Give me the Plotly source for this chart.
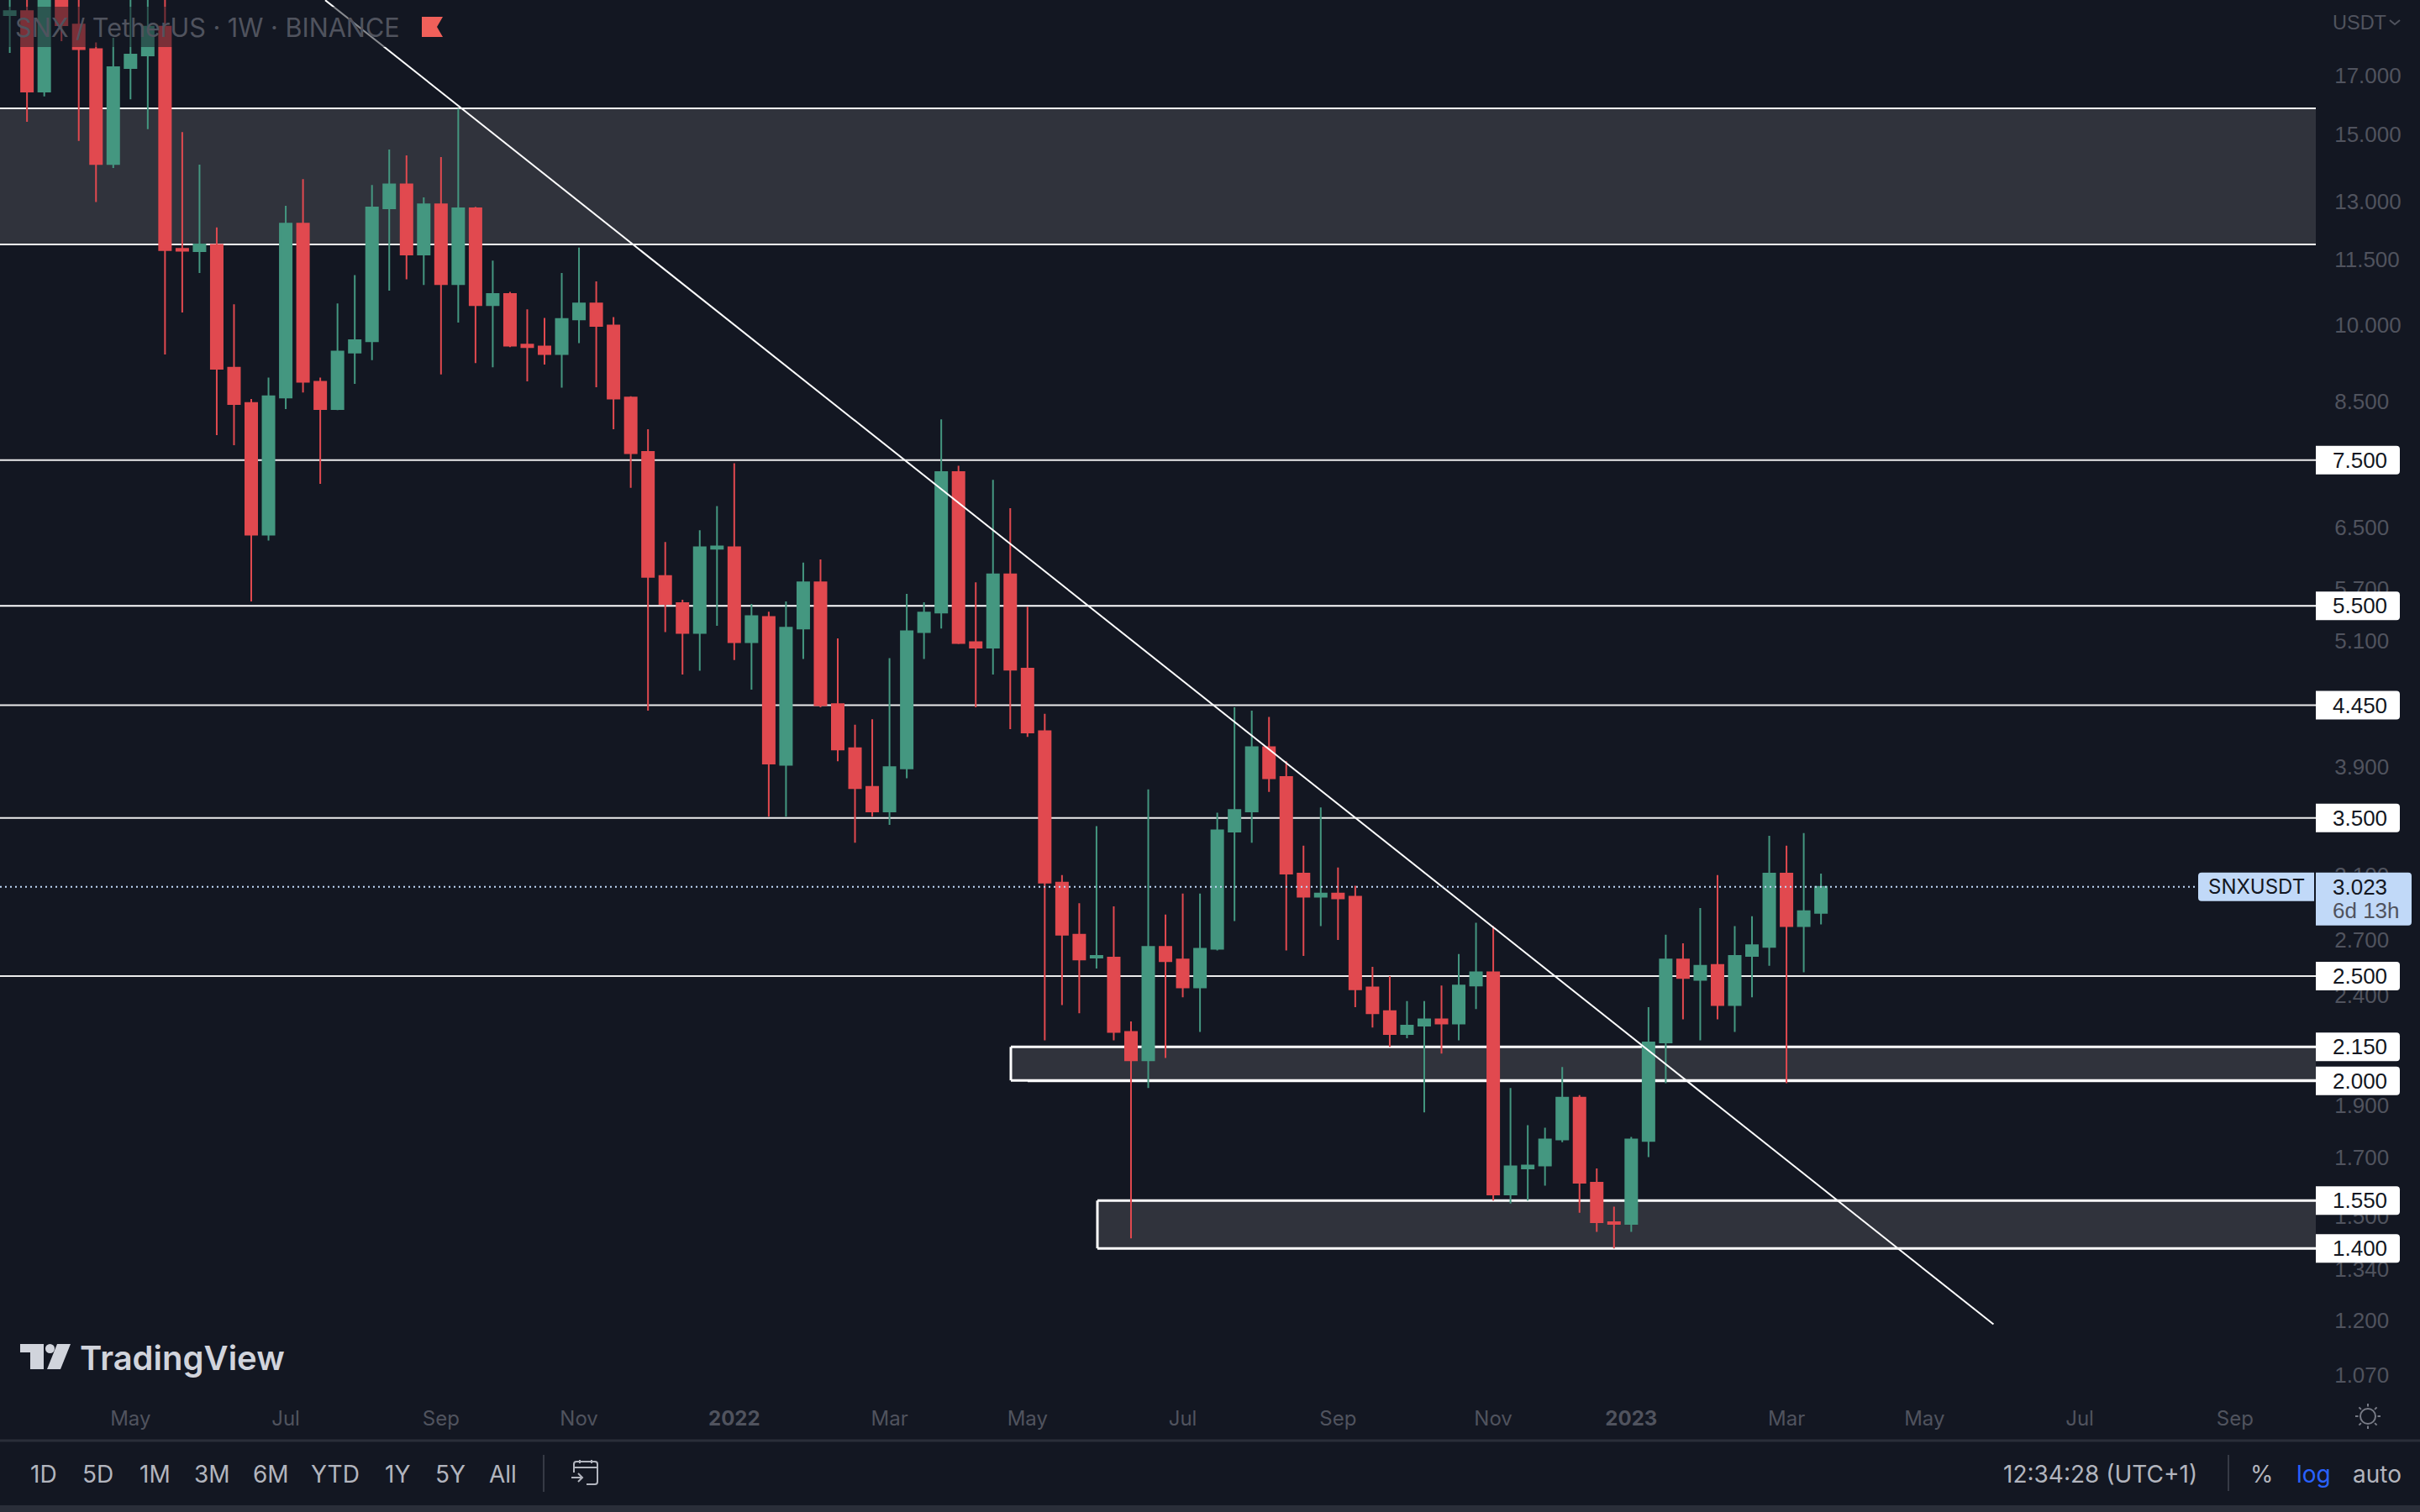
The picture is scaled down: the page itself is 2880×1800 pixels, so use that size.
import math
import pandas as pd
import plotly.graph_objects as go

# weekly SNX/USDT candles, oldest first
first_week = "2021-03-15"
opens = [19.34, 19.51, 16.44, 21.5, 18.96, 17.99, 14.09, 17.28, 17.75, 18.87,
         11.76, 11.70, 11.86, 9.13, 8.47, 6.40, 8.57, 12.41, 8.86, 8.36,
         9.43, 9.66, 12.82, 13.49, 11.62, 12.93, 10.91, 12.82, 10.43, 10.68,
         9.59, 9.55, 9.40, 10.12, 10.47, 9.99, 8.57, 7.63, 5.86, 5.53,
         5.19, 6.21, 6.23, 5.09, 5.37, 3.92, 5.24, 5.78, 4.46, 4.06,
         3.74, 3.55, 3.89, 5.20, 5.42, 7.31, 5.09, 5.03, 5.88, 4.81,
         4.21, 3.05, 2.73, 2.60, 2.60, 2.22, 2.09, 2.66, 2.59, 2.44,
         2.65, 3.40, 3.55, 4.07, 3.82, 3.11, 2.96, 2.98, 2.96, 2.44,
         2.32, 2.21, 2.25, 2.28, 2.26, 2.45, 2.52, 1.57, 1.66, 1.67,
         1.765, 1.93, 1.61, 1.48, 1.475, 1.76, 2.17, 2.59, 2.48, 2.56,
         2.35, 2.61, 2.66, 3.11, 2.78, 2.86]
highs = [20.6, 20.6, 22.0, 22.0, 20.6, 18.25, 18.43, 20.6, 20.6, 20.6,
         15.08, 14.07, 12.31, 10.45, 8.54, 8.94, 12.89, 13.64, 8.94, 10.47,
         11.12, 13.47, 14.53, 14.35, 13.12, 14.30, 15.85, 12.86, 11.47, 10.73,
         10.34, 10.15, 11.17, 11.79, 10.97, 10.17, 8.59, 8.01, 6.30, 5.57,
         6.46, 6.80, 7.45, 5.52, 5.43, 5.55, 6.03, 6.07, 5.13, 4.27,
         4.32, 4.92, 5.64, 5.54, 8.18, 7.41, 5.78, 7.19, 6.77, 5.49,
         4.37, 3.10, 2.92, 3.44, 2.90, 2.27, 3.72, 2.85, 2.98, 2.98,
         3.54, 4.43, 4.40, 4.34, 3.95, 3.30, 3.58, 3.15, 3.03, 2.55,
         2.50, 2.37, 2.37, 2.45, 2.62, 2.80, 2.78, 1.97, 1.82, 1.81,
         2.06, 1.94, 1.66, 1.53, 1.775, 2.34, 2.73, 2.68, 2.89, 3.10,
         2.78, 2.84, 3.37, 3.30, 3.39, 3.11]
lows = [17.85, 15.41, 16.27, 18.3, 14.80, 12.99, 13.97, 16.17, 15.17, 9.39,
        10.27, 11.17, 7.91, 7.74, 5.55, 6.32, 8.36, 8.66, 7.13, 8.34,
        8.82, 9.28, 10.76, 11.02, 10.89, 9.00, 10.05, 9.22, 9.14, 9.54,
        8.87, 9.19, 8.75, 9.62, 8.76, 8.01, 7.07, 4.40, 5.20, 4.75,
        4.79, 5.27, 4.90, 4.60, 3.51, 3.51, 4.91, 4.43, 3.95, 3.32,
        3.51, 3.45, 3.81, 4.91, 5.24, 5.07, 4.43, 4.75, 4.23, 4.16,
        2.18, 2.35, 2.31, 2.54, 2.18, 1.43, 1.97, 2.10, 2.39, 2.22,
        2.64, 2.81, 3.32, 3.70, 2.64, 2.61, 2.78, 2.70, 2.34, 2.24,
        2.15, 2.19, 1.87, 2.12, 2.18, 2.33, 1.55, 1.54, 1.55, 1.60,
        1.755, 1.51, 1.45, 1.40, 1.45, 1.70, 1.99, 2.28, 2.18, 2.28,
        2.22, 2.39, 2.555, 1.99, 2.52, 2.79]
closes = [19.51, 16.44, 21.0, 18.93, 17.99, 14.09, 17.31, 17.78, 18.87, 11.73,
          11.71, 11.87, 9.11, 8.45, 6.40, 8.59, 12.41, 8.86, 8.36, 9.45,
          9.68, 12.84, 13.49, 11.62, 12.93, 10.91, 12.82, 10.43, 10.68, 9.57,
          9.54, 9.40, 10.13, 10.47, 9.98, 8.55, 7.61, 5.85, 5.52, 5.19,
          6.23, 6.24, 5.09, 5.38, 3.93, 5.25, 5.78, 4.45, 4.05, 3.73,
          3.55, 3.90, 5.21, 5.42, 7.31, 5.08, 5.03, 5.88, 4.80, 4.20,
          3.05, 2.73, 2.59, 2.61, 2.22, 2.09, 2.66, 2.58, 2.44, 2.65,
          3.41, 3.56, 4.07, 3.81, 3.11, 2.96, 2.98, 2.95, 2.43, 2.31,
          2.21, 2.25, 2.28, 2.26, 2.45, 2.52, 1.57, 1.667, 1.67, 1.765,
          1.93, 1.61, 1.48, 1.475, 1.765, 2.17, 2.59, 2.49, 2.555, 2.35,
          2.61, 2.67, 3.11, 2.78, 2.87, 3.023]

# axis labels
date_ticks = ["2021-05-03", "2021-07-05", "2021-09-06", "2021-11-01", "2022-01-03",
              "2022-03-07", "2022-05-02", "2022-07-04", "2022-09-05", "2022-11-07",
              "2023-01-02", "2023-03-06", "2023-05-01", "2023-07-03", "2023-09-04"]
date_labels = ["May", "Jul", "Sep", "Nov", "<b>2022</b>", "Mar", "May", "Jul", "Sep", "Nov",
               "<b>2023</b>", "Mar", "May", "Jul", "Sep"]
price_ticks = [17, 15, 13, 11.5, 10, 8.5, 6.5, 5.7, 5.1, 3.9, 3.1, 2.7, 2.4, 1.9, 1.7, 1.5, 1.34, 1.2, 1.07]

# drawn levels
level_lines = [7.5, 5.5, 4.45, 3.5, 2.5]
level_tags = [7.5, 5.5, 4.45, 3.5, 2.5, 2.15, 2.0, 1.55, 1.4]
last_price = 3.023
trend_dates = ["2021-07-21", "2023-05-29"]
trend_prices = [19.97, 1.191]

ranges = ["1D", "5D", "1M", "3M", "6M", "YTD", "1Y", "5Y", "All"]
range_x = [52, 116, 184, 253, 322, 399, 473, 536, 598]

BG = "#131722"
ZONE = "#30333c"
RED = "#e1494f"
GREEN = "#449780"
MUTED = "#50535e"
TEXT = "#b2b5be"
TAG_BLUE = "#c1d9f8"
FONT = "Inter"
NUM_FONT = "Liberation Sans"  # tabular digits, closer to the price scale

W, H = 2880, 1800
PLOT_R, PLOT_B = 2756, 1672
X_END = "2023-10-06 19:00"


def px(x):
    return x / W


def py(y):
    return 1 - y / H


weeks = pd.date_range(first_week, periods=len(opens), freq="7D")

fig = go.Figure()

# trendline goes first so the candles sit on top of it
fig.add_trace(go.Scatter(x=trend_dates, y=trend_prices, mode="lines", hoverinfo="skip",
                         line=dict(color="#ffffff", width=2), showlegend=False))
fig.add_trace(go.Candlestick(x=weeks, open=opens, high=highs, low=lows, close=closes,
                             whiskerwidth=0, showlegend=False,
                             increasing=dict(line=dict(color=GREEN, width=2), fillcolor=GREEN),
                             decreasing=dict(line=dict(color=RED, width=2), fillcolor=RED)))

shapes = []


def hline(price, x0=0, x1=PLOT_R, width=2, color="#ffffff"):
    shapes.append(dict(type="line", xref="paper", yref="y", x0=px(x0), x1=px(x1), y0=price, y1=price,
                       layer="below", line=dict(color=color, width=width)))


def zone(x0, low, high):
    shapes.append(dict(type="rect", xref="paper", yref="y", x0=px(x0), x1=px(PLOT_R), y0=low, y1=high,
                       layer="below", fillcolor=ZONE, line=dict(width=0)))


def zone_edge(x0, low, high):
    # open on the right, the zones run into the price scale
    hline(high, x0=x0, width=3)
    hline(low, x0=x0, width=3)
    shapes.append(dict(type="line", xref="paper", yref="y", x0=px(x0), x1=px(x0), y0=low, y1=high,
                       layer="below", line=dict(color="#ffffff", width=3)))


def icon(path, x0, y0, fill=None, color=None, width=2):
    shapes.append(dict(type="path", path=path, xref="paper", yref="paper",
                       xsizemode="pixel", ysizemode="pixel", xanchor=px(x0), yanchor=py(y0),
                       fillcolor=fill if fill else "rgba(0,0,0,0)",
                       line=dict(color=color if color else "rgba(0,0,0,0)", width=width if color else 0)))


def dot(cx, cy, r, fill=None, color=None, width=2):
    shapes.append(dict(type="circle", xref="paper", yref="paper",
                       xsizemode="pixel", ysizemode="pixel", xanchor=px(cx), yanchor=py(cy),
                       x0=-r, x1=r, y0=-r, y1=r,
                       fillcolor=fill if fill else "rgba(0,0,0,0)",
                       line=dict(color=color if color else "rgba(0,0,0,0)", width=width if color else 0)))


# zones
zone(0, 11.87, 15.86)
hline(15.86, width=2)
hline(11.87, width=2)

zone(1203, 2.002, 2.15)
zone_edge(1203, 2.002, 2.15)
hline(2.0, x0=1223, width=3)

zone(1306, 1.4, 1.55)
zone_edge(1306, 1.4, 1.55)

for lv in level_lines:
    hline(lv, color="#ececec" if lv != 5.5 else "#ffffff")

# last price dotted line, drawn over the candles
shapes.append(dict(type="line", xref="paper", yref="y", x0=0, x1=px(2616), y0=last_price, y1=last_price,
                   layer="above", line=dict(color=TAG_BLUE, width=2, dash="2px,4px")))

# legend backdrop dims whatever runs behind it
shapes.append(dict(type="rect", xref="paper", yref="paper", x0=0, x1=px(530), y0=py(56), y1=py(8),
                   layer="above", fillcolor="rgba(19,23,34,0.5)", line=dict(width=0)))

# price tags
for lv in level_tags:
    shapes.append(dict(type="path", xref="paper", yref="y", xsizemode="pixel", ysizemode="pixel",
                       xanchor=px(PLOT_R), yanchor=lv,
                       path="M0,-17 H96 Q100,-17 100,-13 V13 Q100,17 96,17 H0 Z",
                       fillcolor="#ffffff", line=dict(width=0)))
shapes.append(dict(type="path", xref="paper", yref="y", xsizemode="pixel", ysizemode="pixel",
                   xanchor=px(PLOT_R), yanchor=last_price,
                   path="M0,-46 H110 Q114,-46 114,-42 V13 Q114,17 110,17 H0 Z",
                   fillcolor=TAG_BLUE, line=dict(width=0)))
shapes.append(dict(type="path", xref="paper", yref="y", xsizemode="pixel", ysizemode="pixel",
                   xanchor=px(2616), yanchor=last_price,
                   path="M138,-17 H4 Q0,-17 0,-13 V13 Q0,17 4,17 H138 Z",
                   fillcolor=TAG_BLUE, line=dict(width=0)))

# frame of the page
shapes.append(dict(type="line", xref="paper", yref="paper", x0=0, x1=1, y0=py(1715), y1=py(1715),
                   line=dict(color="#2a2e39", width=3)))
shapes.append(dict(type="rect", xref="paper", yref="paper", x0=0, x1=1, y0=0, y1=py(1792),
                   fillcolor="#2a2e39", line=dict(width=0)))
shapes.append(dict(type="line", xref="paper", yref="paper", x0=px(647), x1=px(647), y0=py(1732), y1=py(1776),
                   line=dict(color="#363a45", width=2)))
shapes.append(dict(type="line", xref="paper", yref="paper", x0=px(2652), x1=px(2652), y0=py(1732), y1=py(1775),
                   line=dict(color="#363a45", width=2)))

# small icons
icon("M0,0 H25 L18,-12 L25,-24 H0 Z", 502, 20, fill="#f0605a")
icon("M-6,2 L0,-3 L6,2", 2850, 26, color=MUTED, width=2)
icon("M0,0 H28 V-30 H12 V-10 H0 Z", 24, 1600, fill="#d1d4dc")
dot(59.5, 1605.5, 5.5, fill="#d1d4dc")
icon("M44,0 H60 L48,-30 H32 Z", 24, 1600, fill="#d1d4dc")
icon("M2,-15 V-5 Q2,-2 5,-2 H27 Q30,-2 30,-5 V-26 Q30,-29 27,-29 H17 M2,-9 H30 M9,0 V-4 M23,0 V-4 "
     "M-1,-21 H12 M7,-16 L12,-21 L7,-26", 681, 1738, color=TEXT, width=2)

dot(2818, 1686, 9, color="#787b86")
rays = ""
for k in range(8):
    a = k * math.pi / 4
    rays += f" M{11.5 * math.cos(a):.1f},{11.5 * math.sin(a):.1f} L{15 * math.cos(a):.1f},{15 * math.sin(a):.1f}"
icon(rays.strip(), 2818, 1686, color="#787b86", width=2)


def label(text, x, y, size=24, color=MUTED, anchor="center", weight=None, family=FONT):
    font = dict(family=family, size=size, color=color)
    if weight:
        font["weight"] = weight
    return dict(text=text, xref="paper", yref="paper", x=px(x), y=py(y), xanchor=anchor, yanchor="middle",
                showarrow=False, font=font)


annotations = [
    label("SNX / TetherUS · 1W · BINANCE", 16, 33, size=30.6, anchor="left"),
    label("TradingView", 93, 1616, size=40, color="#d1d4dc", anchor="left", weight=600),
    label("USDT", 2774, 27, size=23.5, anchor="left", family=NUM_FONT),
    label("SNXUSDT", 2685, 1055.6, size=24, color="#131722"),
    label("6d 13h", 2774, 1084, size=26, anchor="left", family=NUM_FONT),
    label("12:34:28 (UTC+1)", 2499, 1755, size=28, color=TEXT),
    label("%", 2692, 1755, size=28, color=TEXT),
    label("log", 2753, 1755, size=28, color="#2962ff"),
    label("auto", 2829, 1755, size=28, color=TEXT),
]
for name, cx in zip(ranges, range_x):
    annotations.append(label(name, cx, 1755, size=28, color=TEXT))
for lv in level_tags + [last_price]:
    annotations.append(dict(text=f"{lv:.3f}", xref="paper", yref="y", x=px(2774), y=math.log10(lv),
                            xanchor="left", yanchor="middle", showarrow=False,
                            font=dict(family=NUM_FONT, size=26, color="#131722")))

fig.update_layout(
    width=W, height=H, margin=dict(l=0, r=0, t=0, b=0),
    paper_bgcolor=BG, plot_bgcolor=BG, boxgap=0.318, boxgroupgap=0,
    font=dict(family=FONT, size=24, color=MUTED),
    showlegend=False, shapes=shapes, annotations=annotations,
    xaxis=dict(domain=[0, px(PLOT_R)], type="date", range=["2021-03-11 01:00", X_END],
               tickmode="array", tickvals=date_ticks, ticktext=date_labels, ticks="",
               showgrid=False, zeroline=False, showline=False, rangeslider=dict(visible=False),
               tickfont=dict(family=FONT, size=24, color=MUTED)),
    yaxis=dict(domain=[py(PLOT_B), 1], type="log", range=[0.00178, 1.30049], side="right",
               tickmode="array", tickvals=price_ticks, ticktext=[f"{v:.3f}" for v in price_ticks],
               ticks="outside", ticklen=16, tickcolor="rgba(0,0,0,0)",
               showgrid=False, zeroline=False, showline=False,
               tickfont=dict(family=NUM_FONT, size=26, color=MUTED)),
)

fig.write_html("out.html", config={"displayModeBar": False},
               post_script="document.body.style.margin='0';document.body.style.background='#131722';")
